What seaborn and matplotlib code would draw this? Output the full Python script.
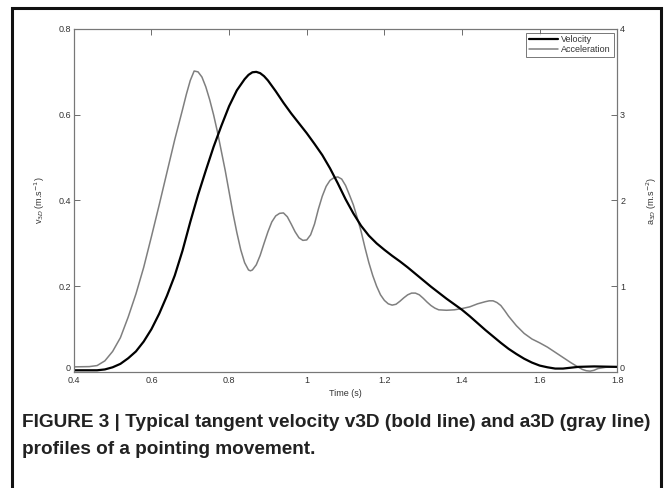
"""
Tipicni profil tangencijalne brzine v3D i ubrzanja a3D (pokret pokazivanja).
Sprema: out.png
"""
import matplotlib
matplotlib.use("Agg")
import matplotlib.pyplot as plt
import matplotlib.transforms as mtransforms
import numpy as np
import pandas as pd
import seaborn as sns

# Brzina (m/s), ocitano sa slike
vel_time = [0.40, 0.46, 0.48, 0.50, 0.52, 0.54, 0.56, 0.58, 0.60, 0.62, 0.64, 0.66,
            0.68, 0.70, 0.72, 0.74, 0.76, 0.78, 0.80, 0.82, 0.84, 0.85, 0.86, 0.87,
            0.88, 0.89, 0.90, 0.92, 0.94, 0.96, 0.98, 1.00, 1.02, 1.04, 1.06, 1.08,
            1.10, 1.12, 1.14, 1.16, 1.18, 1.20, 1.22, 1.24, 1.26, 1.28, 1.30, 1.32,
            1.34, 1.36, 1.38, 1.40, 1.42, 1.44, 1.46, 1.48, 1.50, 1.52, 1.54, 1.56,
            1.58, 1.60, 1.62, 1.64, 1.66, 1.68, 1.70, 1.74, 1.80]
velocity = [0.004, 0.004, 0.006, 0.011, 0.019, 0.032, 0.048, 0.071, 0.100, 0.136, 0.178, 0.225,
            0.283, 0.350, 0.413, 0.470, 0.525, 0.574, 0.620, 0.657, 0.683, 0.693, 0.699, 0.700,
            0.697, 0.690, 0.680, 0.655, 0.628, 0.603, 0.580, 0.557, 0.532, 0.506, 0.475, 0.440,
            0.403, 0.370, 0.341, 0.318, 0.300, 0.285, 0.271, 0.258, 0.244, 0.229, 0.214, 0.199,
            0.185, 0.171, 0.158, 0.145, 0.130, 0.114, 0.098, 0.083, 0.068, 0.054, 0.042, 0.031,
            0.022, 0.015, 0.011, 0.008, 0.008, 0.010, 0.012, 0.013, 0.012]

# Ubrzanje (m/s^2), ocitano sa slike
acc_time = [0.40, 0.44, 0.46, 0.48, 0.50, 0.52, 0.54, 0.56, 0.58, 0.60, 0.62, 0.64,
            0.66, 0.68, 0.69, 0.70, 0.71, 0.72, 0.73, 0.74, 0.75, 0.76, 0.77, 0.78,
            0.79, 0.80, 0.81, 0.82, 0.83, 0.84, 0.85, 0.855, 0.86, 0.87, 0.88, 0.89,
            0.90, 0.91, 0.92, 0.93, 0.94, 0.95, 0.96, 0.97, 0.98, 0.99, 1.00, 1.01,
            1.02, 1.03, 1.04, 1.05, 1.06, 1.07, 1.08, 1.09, 1.10, 1.11, 1.12, 1.13,
            1.14, 1.15, 1.16, 1.17, 1.18, 1.19, 1.20, 1.21, 1.22, 1.23, 1.24, 1.25,
            1.26, 1.27, 1.28, 1.29, 1.30, 1.31, 1.32, 1.33, 1.34, 1.36, 1.38, 1.40,
            1.42, 1.44, 1.46, 1.47, 1.48, 1.49, 1.50, 1.51, 1.52, 1.54, 1.56, 1.58,
            1.60, 1.62, 1.64, 1.66, 1.68, 1.70, 1.71, 1.72, 1.73, 1.74, 1.75, 1.77, 1.80]
acceleration = [0.060, 0.063, 0.075, 0.130, 0.240, 0.400, 0.640, 0.910, 1.220, 1.580, 1.950, 2.330,
                2.710, 3.060, 3.240, 3.400, 3.510, 3.500, 3.440, 3.325, 3.175, 3.000, 2.800, 2.575,
                2.350, 2.100, 1.850, 1.625, 1.425, 1.275, 1.190, 1.180, 1.190, 1.250, 1.360, 1.500,
                1.635, 1.750, 1.820, 1.850, 1.855, 1.810, 1.725, 1.635, 1.565, 1.535, 1.540, 1.600,
                1.725, 1.900, 2.050, 2.165, 2.235, 2.265, 2.275, 2.250, 2.175, 2.065, 1.950, 1.800,
                1.640, 1.450, 1.275, 1.125, 1.000, 0.900, 0.835, 0.795, 0.780, 0.790, 0.825, 0.865,
                0.900, 0.920, 0.920, 0.900, 0.860, 0.815, 0.775, 0.745, 0.725, 0.720, 0.725, 0.740,
                0.760, 0.795, 0.820, 0.830, 0.830, 0.810, 0.775, 0.715, 0.650, 0.540, 0.450, 0.385,
                0.340, 0.290, 0.230, 0.170, 0.110, 0.055, 0.030, 0.015, 0.010, 0.020, 0.040, 0.055, 0.060]

x_ticks = [0.4, 0.6, 0.8, 1.0, 1.2, 1.4, 1.6, 1.8]
x_tick_labels = ["0.4", "0.6", "0.8", "1", "1.2", "1.4", "1.6", "1.8"]
v_ticks = [0, 0.2, 0.4, 0.6, 0.8]
v_tick_labels = ["0", "0.2", "0.4", "0.6", "0.8"]
a_ticks = [0, 1, 2, 3, 4]

sns.set_style("white")
plt.rcParams["font.family"] = ["Liberation Sans", "DejaVu Sans"]

df_v = pd.DataFrame({"t": vel_time, "v": velocity})
df_a = pd.DataFrame({"t": acc_time, "a": acceleration})

fig = plt.figure(figsize=(6.71, 4.88), dpi=100)
ax = fig.add_axes([0.110, 0.2377, 0.810, 0.7029])
ax2 = ax.twinx()

sns.lineplot(data=df_a, x="t", y="a", ax=ax2, color="#7f7f7f", lw=1.1,
             sort=False, estimator=None, label="Acceleration", legend=False)
sns.lineplot(data=df_v, x="t", y="v", ax=ax, color="#000000", lw=1.6,
             sort=False, estimator=None, label="Velocity", legend=False)

ax.set_zorder(ax2.get_zorder() + 1)
ax.patch.set_visible(False)

ax.set_xlim(0.4, 1.8)
ax.set_ylim(0, 0.8)
ax2.set_ylim(0, 4)

tick_color = "#333333"
ax.set_xticks(x_ticks)
ax.set_xticklabels(x_tick_labels)
ax.set_yticks(v_ticks)
ax.set_yticklabels(v_tick_labels)
ax2.set_yticks(a_ticks)
ax.tick_params(axis="both", direction="in", length=4, width=0.6, colors="#555555",
               labelcolor=tick_color, labelsize=6.5, pad=2, top=True)
ax.tick_params(axis="x", pad=3)
ax2.tick_params(axis="y", direction="in", length=4, width=0.6, colors="#555555",
                labelcolor=tick_color, labelsize=6.5, pad=2)

# "0" na y osama malo iznad (kao u MATLAB-u), da se ne preklapa sa 0.4 / 1.8
lift = mtransforms.ScaledTranslation(0, 5 / 100, fig.dpi_scale_trans)
t0 = ax.yaxis.get_major_ticks()[0]
t0.label1.set_transform(t0.label1.get_transform() + lift)
t0r = ax2.yaxis.get_major_ticks()[0]
t0r.label2.set_transform(t0r.label2.get_transform() + lift)

for a in (ax, ax2):
    for s in a.spines.values():
        s.set_color("#777777")
        s.set_linewidth(0.8)

ax.set_xlabel("Time (s)", fontsize=6.5, color=tick_color, labelpad=3)
ax.set_ylabel("v$_{3D}$ (m.s$^{-1}$)", fontsize=6.5, color=tick_color, labelpad=8)
ax2.set_ylabel("a$_{3D}$ (m.s$^{-2}$)", fontsize=6.5, color=tick_color, rotation=90, labelpad=14)

# Legenda
h1, l1 = ax.get_legend_handles_labels()
h2, l2 = ax2.get_legend_handles_labels()
leg = ax.legend(h1 + h2, l1 + l2, loc="upper right", fontsize=6.5, frameon=True,
                fancybox=False, borderpad=0.3, labelspacing=0.1, handlelength=3.2,
                handletextpad=0.4, borderaxespad=0.4)
leg.get_frame().set_edgecolor("#555555")
leg.get_frame().set_linewidth(0.7)
for t in leg.get_texts():
    t.set_color(tick_color)

# Okvir oko slike
frame = plt.Rectangle((12 / 671, -0.05), (661 - 12) / 671, 1.05 - 8 / 488,
                      transform=fig.transFigure, fill=False, edgecolor="#111111", lw=2.2)
fig.add_artist(frame)

cap_font = ["Liberation Sans Narrow", "Liberation Sans", "DejaVu Sans"]
fig.text(22 / 671, 1 - 427 / 488, "FIGURE 3 | Typical tangent velocity v3D (bold line) and a3D (gray line)",
         fontsize=13.7, fontweight="bold", family=cap_font, color="#222222", va="baseline")
fig.text(22 / 671, 1 - 454 / 488, "profiles of a pointing movement.",
         fontsize=13.7, fontweight="bold", family=cap_font, color="#222222", va="baseline")

fig.savefig("out.png", dpi=100)
